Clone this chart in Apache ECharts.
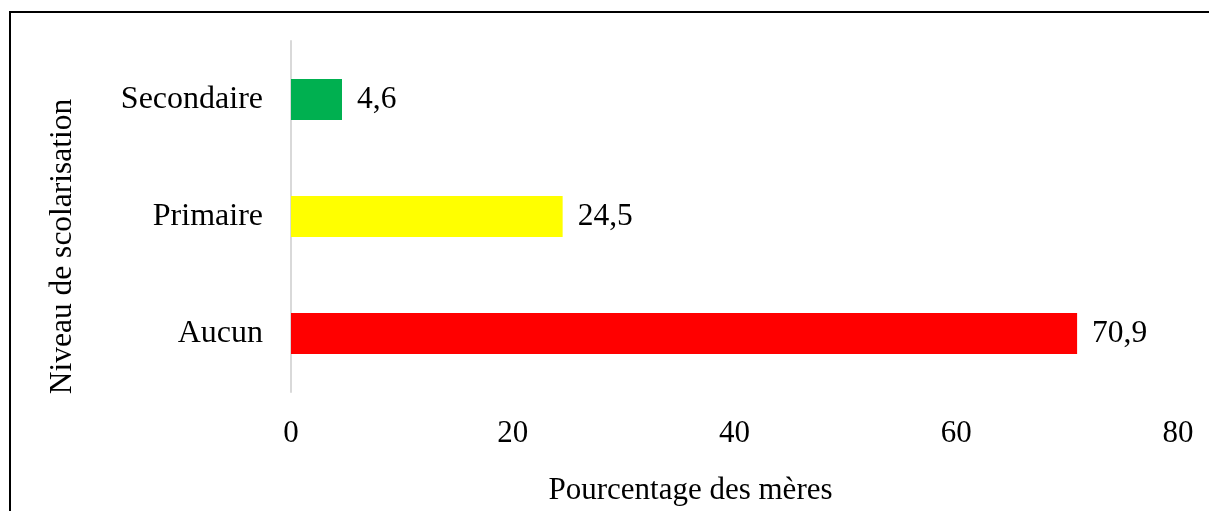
<!DOCTYPE html>
<html>
<head>
<meta charset="utf-8">
<script src="https://cdn.jsdelivr.net/npm/echarts@6/dist/echarts.min.js"></script>
<style>
  html, body { margin: 0; padding: 0; background: #fff; }
  #chart { width: 1209px; height: 511px; }
  /* cadre du graphique (coupé à droite et en bas) */
  #frame {
    position: absolute; left: 9px; top: 11px; width: 1400px; height: 700px;
    border-top: 2px solid #000; border-left: 2px solid #000;
    pointer-events: none;
  }
</style>
</head>
<body>
<div id="chart"></div>
<div id="frame"></div>
<script>
// niveaux (de bas en haut)
const niveaux = ["Aucun", "Primaire", "Secondaire"];
const pourcentages = [70.9, 24.5, 4.6];
const couleurs = ["#ff0000", "#ffff00", "#00b050"];
const ticksX = [0, 20, 40, 60, 80];

const font = "'Liberation Serif', 'Times New Roman', serif";

const chart = echarts.init(document.getElementById("chart"));

const option = {
  animation: false,
  textStyle: { fontFamily: font },
  grid: { left: 291, right: 31, top: 41, bottom: 119 },
  xAxis: {
    type: "value",
    min: ticksX[0],
    max: ticksX[ticksX.length - 1],
    interval: 20,
    name: "Pourcentage des mères",
    nameLocation: "middle",
    nameGap: 83,
    nameTextStyle: { fontFamily: font, fontSize: 31, color: "#000", padding: [0, 88, 0, 0] },
    axisLine: { show: false },
    axisTick: { show: false },
    splitLine: { show: false },
    axisLabel: { fontFamily: font, fontSize: 31, color: "#000", margin: 26 }
  },
  yAxis: {
    type: "category",
    data: niveaux,
    name: "Niveau de scolarisation",
    nameLocation: "middle",
    nameGap: 212,
    nameRotate: 90,
    nameTextStyle: { fontFamily: font, fontSize: 31.5, color: "#000", padding: [0, 60, 0, 0] },
    axisLine: { show: true, lineStyle: { color: "#d9d9d9", width: 2 } },
    axisTick: { show: false },
    axisLabel: { fontFamily: font, fontSize: 32, color: "#000", margin: 28 }
  },
  series: [
    {
      type: "bar",
      barWidth: 41,
      data: pourcentages.map((v, i) => ({ value: v, itemStyle: { color: couleurs[i] } })),
      label: {
        show: true,
        position: "right",
        distance: 15,
        fontFamily: font,
        fontSize: 31.5,
        color: "#000",
        formatter: (p) => String(p.value).replace(".", ",")
      }
    }
  ]
};

chart.setOption(option);
</script>
</body>
</html>
